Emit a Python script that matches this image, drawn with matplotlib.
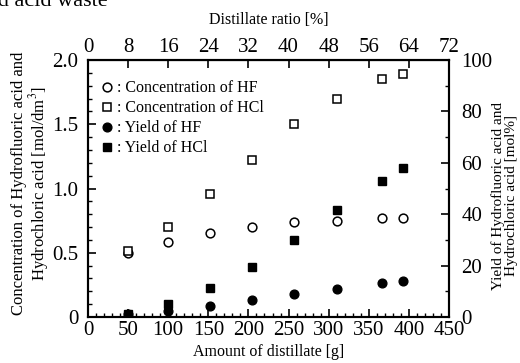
import numpy as np
import matplotlib
matplotlib.use("Agg")
import matplotlib.pyplot as plt
from matplotlib.ticker import MultipleLocator

plt.rcParams["font.family"] = ["Liberation Serif", "DejaVu Serif"]
plt.rcParams["mathtext.fontset"] = "stix"

# datos
amount = [50, 100, 152, 205, 257, 311, 367, 393]          # g
conc_hf = [0.50, 0.58, 0.65, 0.70, 0.74, 0.75, 0.77, 0.77]  # mol/dm3
conc_hcl = [0.51, 0.70, 0.96, 1.22, 1.50, 1.70, 1.85, 1.89]
yield_hf = [1.0, 2.3, 4.4, 6.6, 8.8, 10.9, 13.3, 14.1]      # mol%
yield_hcl = [1.2, 5.0, 11.2, 19.6, 30.0, 41.6, 52.9, 57.9]
ratio_ticks = [0, 8, 16, 24, 32, 40, 48, 56, 64, 72]

W, H = 520, 363
fig = plt.figure(figsize=(5.2, 3.63), dpi=100)
ax = fig.add_axes([88/W, 1-317/H, 361/W, 257/H])
ax2 = ax.twinx()

ms = 6.3
l1, = ax.plot(amount, conc_hf, "o", ms=ms, mfc="white", mec="black", mew=1.1, ls="none")
l2, = ax.plot(amount, conc_hcl, "s", ms=ms, mfc="white", mec="black", mew=1.1, ls="none")
l3, = ax2.plot(amount, yield_hf, "o", ms=ms, color="black", ls="none")
l4, = ax2.plot(amount, yield_hcl, "s", ms=ms, color="black", ls="none")

ax.set_xlim(0, 450)
ax.set_ylim(0, 2.0)
ax2.set_ylim(0, 100)

ax.xaxis.set_major_locator(MultipleLocator(50))
ax.xaxis.set_minor_locator(MultipleLocator(10))
ax.yaxis.set_minor_locator(MultipleLocator(0.1))
ax.set_yticks([0, 0.5, 1.0, 1.5, 2.0])
ax.set_yticklabels(["0", "0.5", "1.0", "1.5", "2.0"])
ax2.yaxis.set_major_locator(MultipleLocator(20))
ax2.yaxis.set_minor_locator(MultipleLocator(10))

tick_fs = 15
ax.tick_params(axis="x", which="major", direction="in", length=6, width=1.2, labelsize=tick_fs, pad=3)
ax.tick_params(axis="y", which="major", direction="in", length=6, width=1.2, labelsize=tick_fs, pad=7)
ax.tick_params(axis="both", which="minor", direction="in", length=3, width=1.0)
ax2.tick_params(axis="y", which="major", direction="in", length=6, width=1.2, labelsize=tick_fs, pad=9)
ax2.tick_params(axis="y", which="minor", direction="in", length=3, width=1.0)
for a in (ax, ax2):
    for s in a.spines.values():
        s.set_linewidth(1.5)

# eje superior: relacion de destilado
top = ax.secondary_xaxis("top", functions=(lambda x: x * 0.16, lambda r: r / 0.16))
top.set_xticks(ratio_ticks)
top.tick_params(direction="in", length=6, width=1.2, labelsize=tick_fs, pad=2)
top.set_xlabel("Distillate ratio [%]", fontsize=11.5, labelpad=10)

ax.set_xlabel("Amount of distillate [g]", fontsize=11.5, labelpad=3)

# etiquetas de los ejes y como texto de figura
fig.text(31/W, 1-183/H, "Concentration of Hydrofluoric acid and\nHydrochloric acid [mol/dm$^3$]",
         fontsize=12, rotation=90, ha="center", va="center", multialignment="center", linespacing=1.05)
fig.text(505/W, 1-196/H, "Yield of Hydrofluoric acid and\nHydrochloric acid [mol%]",
         fontsize=11, rotation=90, ha="center", va="center", multialignment="center", linespacing=1.0)

ax2.legend([l1, l2, l3, l4],
           [": Concentration of HF", ": Concentration of HCl", ": Yield of HF", ": Yield of HCl"],
           loc="upper left", bbox_to_anchor=(0.0, 0.965), frameon=False, fontsize=11.5,
           handlelength=1.0, handletextpad=0.1, labelspacing=0.25, borderaxespad=0.3)

# titulo recortado arriba
fig.text(108/W, 1 - 6/H, "ed acid waste", fontsize=16, ha="right", va="baseline")

fig.savefig("out.png", dpi=100)
